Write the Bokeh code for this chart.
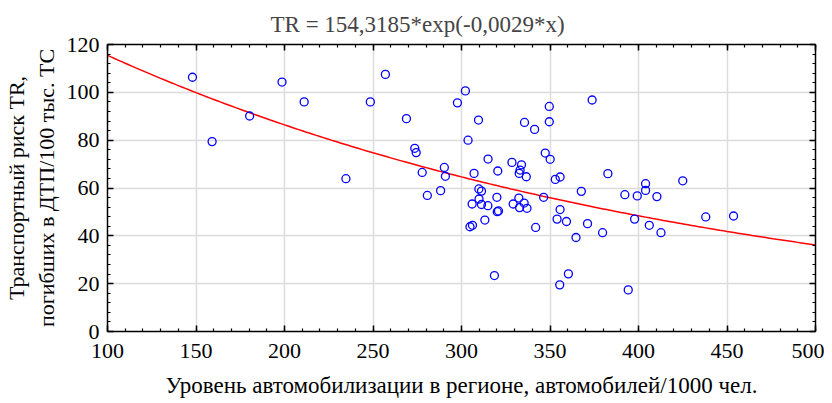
import numpy as np
from bokeh.plotting import figure
from bokeh.models import LinearAxis, SingleIntervalTicker, CustomJSTickFormatter, ColumnDataSource
from bokeh.embed import file_html
from bokeh.resources import INLINE

# Data
motorization = [148.0, 159.1, 180.3, 198.6, 211.1, 234.7, 248.5, 257.0, 268.9, 273.6,
                274.4, 277.8, 280.7, 288.2, 290.3, 290.9, 297.7, 302.2, 303.7, 304.8,
                306.2, 306.0, 307.1, 309.6, 309.8, 311.3, 309.9, 311.3, 313.2, 314.9,
                315.0, 318.6, 320.0, 320.2, 320.9, 320.5, 328.5, 329.2, 332.4, 332.6,
                333.1, 332.8, 333.9, 335.4, 335.6, 336.6, 337.0, 341.3, 341.9, 346.4,
                347.3, 349.6, 349.6, 350.1, 353.0, 354.0, 355.5, 355.7, 355.7, 359.3,
                360.4, 364.7, 367.7, 371.2, 373.8, 379.7, 382.7, 392.3, 394.2, 397.8,
                399.3, 404.0, 404.0, 406.1, 410.4, 412.7, 425.0, 438.0, 453.7]
risk = [106.3, 79.4, 90.1, 104.3, 96.0, 63.9, 96.0, 107.5, 89.0, 76.6,
        74.8, 66.5, 56.9, 58.9, 68.6, 64.9, 95.6, 100.6, 80.0, 43.8,
        44.4, 53.3, 66.1, 88.4, 59.6, 58.7, 55.4, 53.1, 46.6, 52.6,
        72.1, 23.4, 56.1, 50.1, 50.4, 67.1, 70.7, 53.3, 55.8, 66.1,
        67.5, 51.8, 69.7, 53.7, 87.4, 64.7, 51.5, 84.5, 43.5, 56.1,
        74.6, 94.1, 87.7, 72.0, 63.6, 47.0, 19.5, 64.6, 51.0, 46.0,
        24.1, 39.3, 58.6, 45.1, 96.8, 41.3, 66.0, 57.2, 17.4, 47.0,
        56.7, 61.8, 59.0, 44.4, 56.4, 41.3, 63.0, 47.9, 48.3]

# Fitted model stated in the chart title: TR = a*exp(b*x)
fit_a = 154.3185
fit_b = -0.0029
fit_x = np.linspace(100, 500, 201)
fit_y = fit_a * np.exp(fit_b * fit_x)

title_text = "TR = 154,3185*exp(-0,0029*x)"
x_ticks_interval = 50
y_ticks_interval = 20

FONT = "Liberation Serif"

p = figure(width=824, height=403, x_range=(100, 500), y_range=(0, 120),
           output_backend="svg", toolbar_location=None,
           min_border_left=107, min_border_right=9, min_border_top=44, min_border_bottom=72,
           title=title_text)

p.title.text_font = FONT
p.title.text_font_size = "23px"
p.title.text_font_style = "normal"
p.title.align = "left"
p.title.offset = 163
p.title.vertical_align = "top"
p.title.standoff = 12

p.outline_line_color = None
p.background_fill_color = "white"
p.border_fill_color = "white"

p.grid.grid_line_color = "#dcdcdc"
p.grid.grid_line_width = 1.5

def style_axis(ax, ticker):
    ax.ticker = ticker
    ax.axis_line_color = "black"
    ax.axis_line_width = 1.5
    ax.major_tick_in = 6
    ax.major_tick_out = 0
    ax.minor_tick_in = 3
    ax.minor_tick_out = 0
    ax.major_tick_line_color = "black"
    ax.minor_tick_line_color = "black"
    ax.major_tick_line_width = 1.5
    ax.minor_tick_line_width = 1.2
    ax.major_label_text_font = FONT
    ax.major_label_text_font_size = "22px"
    ax.major_label_text_color = "black"
    ax.axis_label_text_font = FONT
    ax.axis_label_text_font_style = "normal"
    ax.axis_label_text_color = "black"

xt = SingleIntervalTicker(interval=x_ticks_interval, num_minor_ticks=5)
yt = SingleIntervalTicker(interval=y_ticks_interval, num_minor_ticks=5)
p.xgrid.ticker = xt
p.ygrid.ticker = yt

style_axis(p.xaxis[0], xt)
style_axis(p.yaxis[0], yt)
p.xaxis.axis_label = "Уровень автомобилизации в регионе, автомобилей/1000 чел."
p.xaxis.axis_label_text_font_size = "23px"
p.xaxis.major_label_standoff = 12
p.xaxis.axis_label_standoff = 12
p.yaxis.axis_label = "Транспортный риск TR,\nпогибших в ДТП/100 тыс. ТС"
p.yaxis.axis_label_text_font_size = "22px"
p.yaxis.major_label_standoff = 8
p.yaxis.axis_label_standoff = 5

blank = CustomJSTickFormatter(code="return ''")
top_ax = LinearAxis(formatter=blank)
right_ax = LinearAxis(formatter=blank)
style_axis(top_ax, SingleIntervalTicker(interval=x_ticks_interval, num_minor_ticks=5))
style_axis(right_ax, SingleIntervalTicker(interval=y_ticks_interval, num_minor_ticks=5))
top_ax.major_label_text_font_size = "0px"
right_ax.major_label_text_font_size = "0px"
top_ax.major_label_standoff = 0
right_ax.major_label_standoff = 0
p.add_layout(top_ax, "above")
p.add_layout(right_ax, "right")

src = ColumnDataSource(dict(x=motorization, y=risk))
p.line(fit_x, fit_y, line_color="red", line_width=1.5)
p.scatter("x", "y", source=src, marker="circle", size=8, fill_color=None,
          line_color="blue", line_width=1.3)

open("out.html", "w").write(file_html(p, INLINE))
